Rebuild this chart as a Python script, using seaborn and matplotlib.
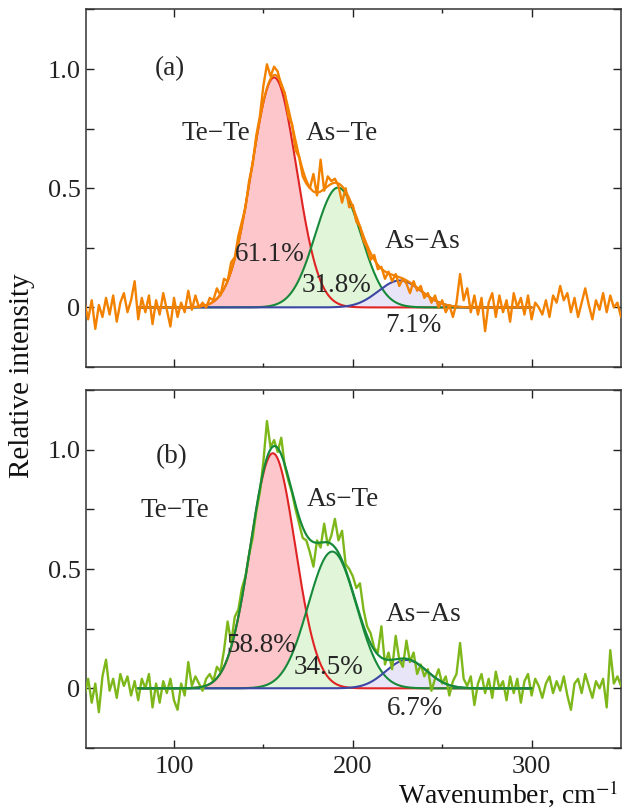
import numpy as np
import pandas as pd
import matplotlib
matplotlib.use("Agg")
import matplotlib.pyplot as plt
from matplotlib.ticker import MultipleLocator, FixedLocator, FuncFormatter
import seaborn as sns

# ---------------- data ----------------
x_start = 50
x_step = 2
spec_a = [0.02, -0.05, 0.03, -0.09, 0.01, -0.04, 0.04, -0.03, 0.05, -0.06,
          0.02, 0.06, -0.02, 0.03, 0.11, -0.05, 0.04, -0.02, 0.05, -0.07,
          0.03, -0.03, 0.06, -0.01, -0.08, 0.04, -0.04, 0.02, -0.02, 0.07,
          -0.01, 0.05, 0.00, 0.02, 0.00, 0.04, 0.03, 0.08, 0.05, 0.12,
          0.11, 0.19, 0.21, 0.30, 0.36, 0.42, 0.53, 0.60, 0.72, 0.80,
          0.93, 1.02, 0.97, 1.01, 0.99, 0.93, 0.90, 0.80, 0.77, 0.66,
          0.63, 0.55, 0.52, 0.50, 0.56, 0.47, 0.62, 0.49, 0.55, 0.53,
          0.54, 0.51, 0.44, 0.50, 0.42, 0.43, 0.36, 0.34, 0.28, 0.25,
          0.20, 0.22, 0.16, 0.17, 0.12, 0.15, 0.11, 0.14, 0.09, 0.12,
          0.10, 0.06, 0.11, 0.07, 0.09, 0.04, 0.06, 0.02, 0.05, 0.00,
          0.03, -0.02, 0.01, -0.04, 0.02, 0.14, 0.03, 0.08, -0.02, 0.05,
          -0.03, 0.04, -0.10, 0.02, 0.06, -0.04, 0.05, -0.02, 0.03, -0.06,
          0.06, 0.00, 0.04, -0.03, 0.05, -0.05, 0.02, 0.00, -0.03, 0.03,
          -0.04, 0.05, 0.02, 0.09, 0.03, 0.06, -0.02, 0.04, -0.04, 0.02,
          0.08, 0.01, -0.05, 0.03, -0.01, 0.06, -0.02, 0.05, 0.00, 0.02,
          -0.04]
spec_b = [-0.03, 0.04, -0.06, 0.02, -0.10, 0.05, 0.12, -0.01, 0.04, -0.04,
          0.06, 0.01, 0.05, -0.03, 0.03, -0.05, 0.04, 0.00, 0.06, -0.08,
          0.02, -0.06, 0.03, -0.02, 0.04, -0.05, -0.09, 0.02, -0.03, 0.11,
          0.01, 0.05, 0.02, -0.01, 0.04, 0.06, 0.03, 0.09, 0.07, 0.16,
          0.28, 0.19, 0.30, 0.33, 0.42, 0.47, 0.56, 0.63, 0.74, 0.82,
          0.95, 1.12, 1.01, 1.04, 0.99, 1.05, 0.93, 0.87, 0.82, 0.75,
          0.69, 0.63, 0.62, 0.57, 0.51, 0.62, 0.59, 0.69, 0.60, 0.64,
          0.71, 0.62, 0.66, 0.52, 0.50, 0.47, 0.42, 0.44, 0.33, 0.26,
          0.23, 0.17, 0.15, 0.26, 0.10, 0.15, 0.08, 0.22, 0.12, 0.09,
          0.20, 0.11, 0.15, 0.06, 0.10, 0.05, 0.08, -0.01, 0.04, 0.08,
          0.02, 0.05, -0.03, 0.03, 0.06, 0.19, 0.04, 0.01, 0.05, -0.07,
          0.02, 0.06, -0.02, 0.04, -0.04, 0.07, 0.00, 0.03, -0.05, 0.05,
          -0.02, 0.04, -0.06, 0.03, 0.06, -0.03, 0.04, 0.01, -0.04, 0.02,
          0.05, -0.02, 0.03, -0.01, 0.05, -0.03, -0.09, 0.02, 0.04, -0.02,
          0.06, 0.01, -0.04, 0.03, 0.00, 0.04, -0.08, 0.16, 0.02, 0.05,
          0.01]

bonds = ["Te\u2212Te", "As\u2212Te", "As\u2212As"]
# fitted Gaussian peaks: centre, height, width (sigma)
centers_a = [156.0, 191.8, 226.3]
heights_a = [0.965, 0.503, 0.113]
widths_a = [12.5, 12.8, 12.0]
percent_a = ["61.1%", "31.8%", "7.1%"]

centers_b = [155.3, 188.5, 230.0]
heights_b = [0.985, 0.573, 0.119]
widths_b = [12.5, 13.5, 11.5]
percent_b = ["58.8%", "34.5%", "6.7%"]

fit_range = [80, 300]

# ---------------- style ----------------
sns.set_theme(style="ticks")
plt.rcParams["font.family"] = ["Liberation Serif", "DejaVu Serif"]
plt.rcParams["mathtext.fontset"] = "stix"

fill_colors = ["#fcc6ca", "#e1f5d9", "#e9e5f9"]
line_colors = ["#e02424", "#178a3a", "#3b47a3"]
spec_colors = ["#f28100", "#7db71a"]
env_colors = ["#f28100", "#178a3a"]

fig = plt.figure(figsize=(6.24, 8.09), dpi=100)
W, H = 624, 809
left, right = 86 / W, 621 / W
ax_a = fig.add_axes([left, 1 - 367 / H, right - left, (367 - 9.5) / H])
ax_b = fig.add_axes([left, 1 - 748 / H, right - left, (748 - 390) / H])

xf = np.linspace(fit_range[0], fit_range[1], 600)


def draw(ax, spec, centers, heights, widths, perc, scol, ecol, label_pos, tag, tag_pos):
    xs = x_start + x_step * np.arange(len(spec))
    comps = [h * np.exp(-(xf - c) ** 2 / (2 * w ** 2)) for c, h, w in zip(centers, heights, widths)]
    for comp, fc in zip(comps, fill_colors):
        ax.fill_between(xf, 0, comp, color=fc, lw=0, zorder=1)
    for comp, lc in zip(comps, line_colors):
        sns.lineplot(x=xf, y=comp, ax=ax, color=lc, lw=1.5, zorder=2, sort=False, estimator=None)
    df = pd.DataFrame({"x": xs, "y": spec})
    sns.lineplot(data=df, x="x", y="y", ax=ax, color=scol, lw=1.7, zorder=3, sort=False, estimator=None)
    env = np.sum(comps, axis=0)
    sns.lineplot(x=xf, y=env, ax=ax, color=ecol, lw=1.6, zorder=4, sort=False, estimator=None)

    ax.set_xlim(50.8, 350)
    ax.set_ylim(-0.25, 1.25)
    ax.set_xlabel("")
    ax.set_ylabel("")
    ax.xaxis.set_major_locator(FixedLocator([100, 200, 300]))
    ax.xaxis.set_minor_locator(FixedLocator([150, 250]))
    ax.yaxis.set_major_locator(MultipleLocator(0.25))
    ax.yaxis.set_major_formatter(FuncFormatter(
        lambda v, p: {0.0: "0", 0.5: "0.5", 1.0: "1.0"}.get(round(v, 2), "")))
    ax.tick_params(which="both", direction="in", top=True, right=True,
                   labelsize=19, colors="#222222", width=1.0)
    ax.tick_params(which="major", length=6, pad=4)
    ax.tick_params(which="minor", length=3)
    for sp in ax.spines.values():
        sp.set_linewidth(1.1)
        sp.set_color("#333333")
    ax.text(tag_pos[0], tag_pos[1], tag, fontsize=19.5, ha="center", va="center", zorder=6)
    for (bx, by), name in zip(label_pos[:3], bonds):
        ax.text(bx, by, name, fontsize=19.5, ha="center", va="center", zorder=6)
    for (px, py), pt in zip(label_pos[3:], perc):
        ax.text(px, py, pt, fontsize=19.5, ha="center", va="center", zorder=6)


labels_a = [(123.3, 0.73), (193.7, 0.728), (238.8, 0.277),
            (153.4, 0.221), (190.8, 0.091), (234.0, -0.077)]
labels_b = [(100.7, 0.744), (194.3, 0.793), (239.7, 0.311),
            (148.6, 0.179), (186.6, 0.088), (234.9, -0.084)]

draw(ax_a, spec_a, centers_a, heights_a, widths_a, percent_a,
     spec_colors[0], env_colors[0], labels_a, "(a)", (97.8, 1.0))
draw(ax_b, spec_b, centers_b, heights_b, widths_b, percent_b,
     spec_colors[1], env_colors[1], labels_b, "(b)", (98.8, 0.97))

ax_a.tick_params(labelbottom=False)
ax_b.tick_params(axis="x", pad=6)

fig.text(22 / W, 1 - 376 / H, "Relative intensity", rotation=90,
         ha="center", va="center", fontsize=21, color="#111111")
fig.text(619 / W, 1 - 794 / H, "Wavenumber, cm$^{-1}$", ha="right",
         va="center", fontsize=20, color="#111111")

fig.savefig("out.png", dpi=100)
